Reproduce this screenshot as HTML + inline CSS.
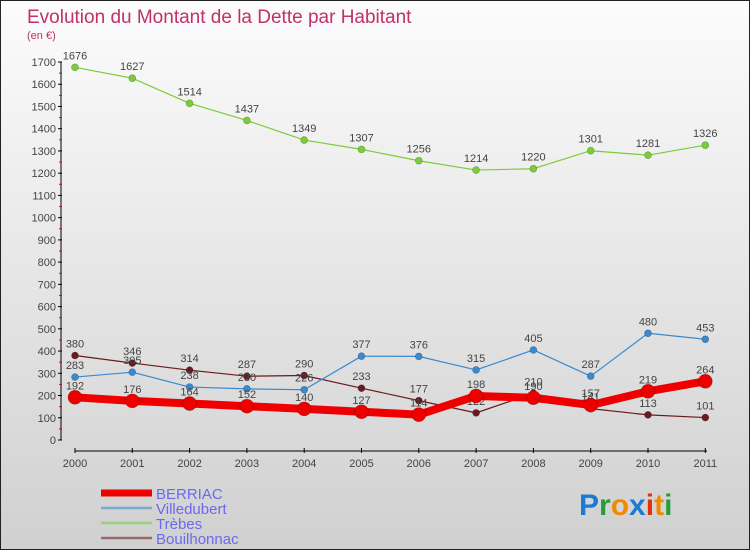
<!DOCTYPE html>
<html><head><meta charset="utf-8">
<style>
body{margin:0;width:750px;height:550px;overflow:hidden;font-family:"Liberation Sans",sans-serif}
#wrap{position:relative;width:748px;height:548px;border:1px solid #222;background:linear-gradient(#fcfcfc,#d0d0d0)}
</style></head><body>
<div id="wrap">
<svg id="chart" width="748" height="548" style="position:absolute;left:0;top:0">
<text x="26" y="22" font-size="19" fill="#c0306a">Evolution du Montant de la Dette par Habitant</text>
<text x="26" y="38" font-size="11" fill="#c0306a">(en €)</text>
<g id="axes"></g><g id="series"></g>
<text x="578" y="514" font-size="30" font-weight="bold"><tspan fill="#1a7ad4">P</tspan><tspan fill="#2a9a3a">r</tspan><tspan fill="#f08a00">o</tspan><tspan fill="#1a7ad4">x</tspan><tspan fill="#e03010">i</tspan><tspan fill="#f08a00">t</tspan><tspan fill="#2a9a3a">i</tspan></text>
</svg>
</div>
<script>
const years=["2000","2001","2002","2003","2004","2005","2006","2007","2008","2009","2010","2011"];
const berriac=[192,176,164,152,140,127,114,198,190,157,219,264];
const villedubert=[283,305,238,230,226,377,376,315,405,287,480,453];
const trebes=[1676,1627,1514,1437,1349,1307,1256,1214,1220,1301,1281,1326];
const bouilhonnac=[380,346,314,287,290,233,177,122,210,141,113,101];
const yTicks=[0,100,200,300,400,500,600,700,800,900,1000,1100,1200,1300,1400,1500,1600,1700];
const NS="http://www.w3.org/2000/svg";
const X=i=>74+i*57.3, Y=v=>439-v*(378/1700);
function mk(tag,attrs,parent){const e=document.createElementNS(NS,tag);for(const k in attrs)e.setAttribute(k,attrs[k]);parent.appendChild(e);return e;}
const ax=document.getElementById('axes'), sg=document.getElementById('series');
let l=mk('line',{x1:60,y1:Y(1700),x2:60,y2:Y(0),stroke:'#000'},ax);


yTicks.forEach(v=>{
 mk('line',{x1:57,x2:61,y1:Y(v),y2:Y(v),stroke:'#000'},ax);
 if(v<1700)mk('line',{x1:58,x2:61,y1:Y(v+50),y2:Y(v+50),stroke:'#e00'},ax);
 const t=mk('text',{x:55,y:Y(v)+4,'font-size':11,'text-anchor':'end',fill:'#444'},ax);t.textContent=v;
 
 
});
l=mk('line',{x1:74,y1:450,x2:706,y2:450,stroke:'#000'},ax);


years.forEach((y,i)=>{
 mk('line',{x1:X(i),x2:X(i),y1:447,y2:452,stroke:'#000'},ax);
 const t=mk('text',{x:X(i),y:466,'font-size':11,'text-anchor':'middle',fill:'#444'},ax);t.textContent=y;
 
 
});
const series=[
 {name:'Bouilhonnac',d:bouilhonnac,c:'#6a1a1e',w:1.2,r:3.5,lc:'#9a6a6a'},
 {name:'Trèbes',d:trebes,c:'#7ccc3a',w:1.2,r:3.5,lc:'#9ad07a'},
 {name:'Villedubert',d:villedubert,c:'#3a8ad0',w:1.2,r:3.5,lc:'#7aaad0'},
 {name:'BERRIAC',d:berriac,c:'#ee0000',w:8,r:7,lc:'#ee0000'}
];
series.forEach(s=>{
 const g=mk('g',{},sg);
 
 
 const p=mk('polyline',{points:s.d.map((v,i)=>X(i)+','+Y(v)).join(' '),fill:'none',stroke:s.c,'stroke-width':s.w,'stroke-linejoin':'round'},g);
 s.d.forEach((v,i)=>{
  const c=mk('circle',{cx:X(i),cy:Y(v),r:s.r,fill:s.c,stroke:'rgba(0,0,0,0.3)','stroke-width':0.6},g);
  
  
  const t=mk('text',{x:X(i),y:Y(v)-8,'font-size':11,'text-anchor':'middle',fill:'#444'},g);t.textContent=v;
  
  
 });
});
const leg=[series[3],series[2],series[1],series[0]];
leg.forEach((s,i)=>{
 const y=492+i*15;
 const g=mk('g',{},sg);
 
 
 mk('line',{x1:100,x2:151,y1:y,y2:y,stroke:s.lc,'stroke-width':i==0?7:2.5},g);
 const t=mk('text',{x:155,y:y+6,'font-size':15,fill:'#6a6af0'},g);t.textContent=s.name;
});
</script>
</body></html>
